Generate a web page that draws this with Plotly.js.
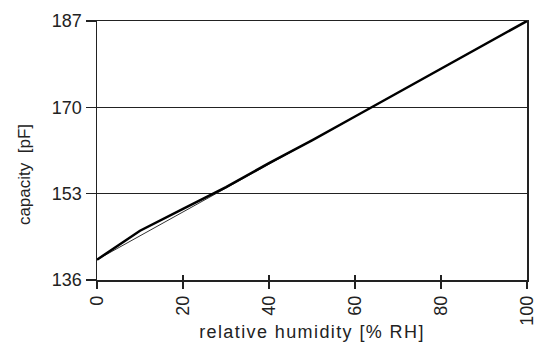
<!DOCTYPE html>
<html><head><meta charset="utf-8">
<script src="https://cdn.plot.ly/plotly-3.0.1.min.js"></script>
<style>
html,body{margin:0;padding:0;background:#fff}
#chart{width:548px;height:342px}
#chart .g-xtitle text{letter-spacing:1.4px}
</style>
</head><body><div id="chart"></div>
<script>
const humidity = [0, 10, 20, 30, 40, 50, 60, 70, 80, 90, 100];
const measured = [140, 145.7, 150, 154.3, 159, 163.5, 168.2, 172.9, 177.6, 182.3, 187];
const idealX = [0, 100];
const idealY = [140, 187];
const xTicks = [0, 20, 40, 60, 80, 100];
const yTicks = [136, 153, 170, 187];

const traces = [
  {x: idealX, y: idealY, mode: 'lines', line: {color: '#333', width: 1}, hoverinfo: 'skip'},
  {x: humidity, y: measured, mode: 'lines', line: {color: '#000', width: 2.5}, hoverinfo: 'skip'},
  {x: idealX, y: idealY, xaxis: 'x2', mode: 'lines', line: {color: 'rgba(0,0,0,0)', width: 0}, hoverinfo: 'skip'}
];
const fam = 'Arial, "Liberation Sans", sans-serif';
const font = {family: fam, size: 18, color: '#222'};
const layout = {
  width: 548, height: 342,
  margin: {l: 97, r: 21, t: 21, b: 62},
  paper_bgcolor: '#fff', plot_bgcolor: '#fff',
  showlegend: false,
  font: font,
  xaxis: {
    range: [0, 100], tickvals: xTicks, ticktext: xTicks.map(String), tickangle: -90,
    tickfont: {family: fam, size: 18, color: '#222'},
    showgrid: false, zeroline: false, showline: true, linecolor: '#222', linewidth: 1.5,
    mirror: true, ticks: 'outside', ticklen: 7, tickwidth: 1.2, tickcolor: '#222',
    title: {text: 'relative humidity [% RH]', font: {family: fam, size: 18, color: '#222'}, standoff: 3}
  },
  xaxis2: {
    range: [0, 100], overlaying: 'x', anchor: 'y', side: 'bottom', tickvals: xTicks,
    showticklabels: false, showgrid: false, zeroline: false, showline: false,
    ticks: 'inside', ticklen: 5, tickwidth: 1.2, tickcolor: '#222'
  },
  yaxis: {
    range: [136, 187], tickvals: yTicks, ticktext: yTicks.map(String),
    tickfont: {family: fam, size: 18, color: '#222'},
    showgrid: true, gridcolor: '#222', gridwidth: 1.2,
    zeroline: false, showline: true, linecolor: '#222', linewidth: 1.5, mirror: true,
    ticks: 'outside', ticklen: 10, tickwidth: 1.2, tickcolor: '#222'
  },
  annotations: [{
    text: 'capacity&nbsp;&nbsp;[pF]', xref: 'paper', yref: 'paper',
    x: 0, xanchor: 'center', xshift: -73, y: 0.405, yanchor: 'middle',
    textangle: -90, showarrow: false, font: {family: fam, size: 17, color: '#222'}
  }]
};
Plotly.newPlot('chart', traces, layout, {staticPlot: true, displayModeBar: false});
</script></body></html>
